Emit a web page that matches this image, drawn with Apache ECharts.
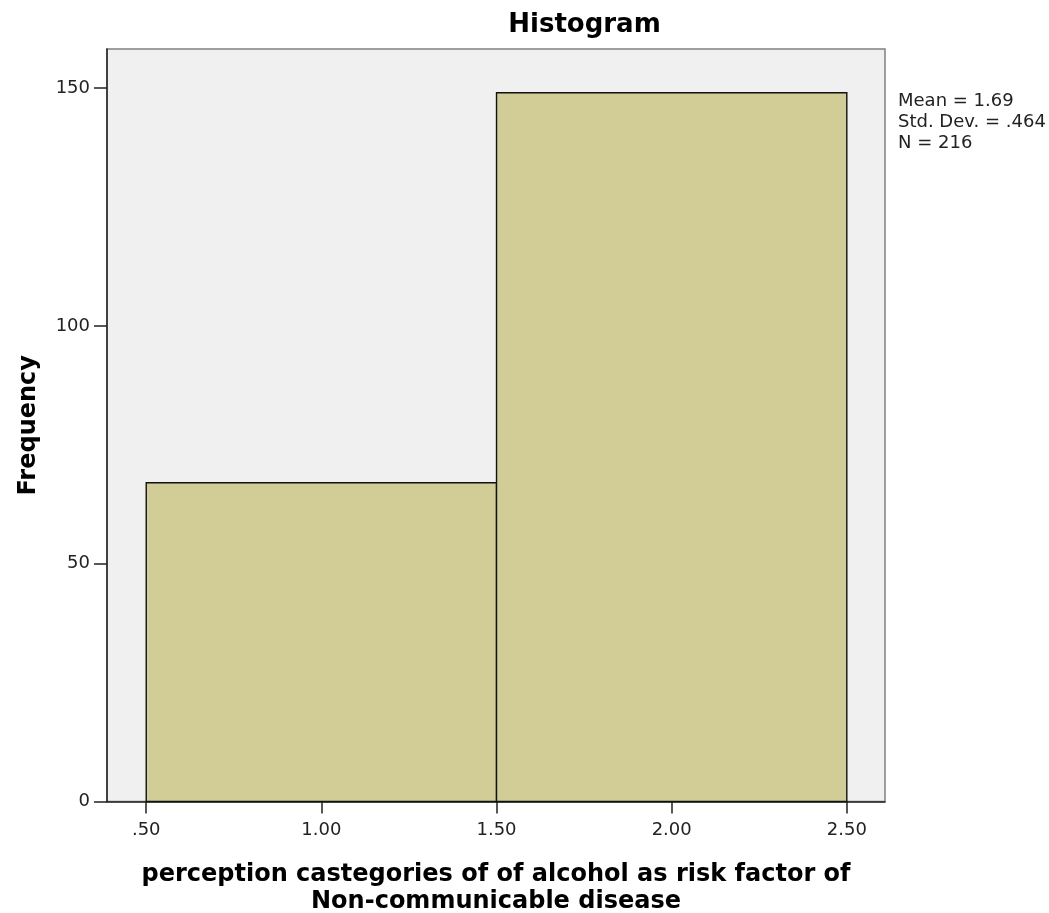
<!DOCTYPE html>
<html>
<head>
<meta charset="utf-8">
<script src="https://cdn.jsdelivr.net/npm/echarts@6/dist/echarts.min.js"></script>
<style>
html,body{margin:0;padding:0;background:#fff;}
#chart{width:1049px;height:913px;}
</style>
</head>
<body>
<div id="chart"></div>
<script>
// ---- data ----
const binStarts = [0.5, 1.5];
const binEnds = [1.5, 2.5];
const frequencies = [67, 149];
const xTickValues = [0.5, 1.0, 1.5, 2.0, 2.5];
const yTickValues = [0, 50, 100, 150];
const statLines = ['Mean = 1.69', 'Std. Dev. = .464', 'N = 216'];
const chartTitle = 'Histogram';
const xTitle = 'perception castegories of of alcohol as risk factor of\nNon-communicable disease';
const yTitle = 'Frequency';

const histData = binStarts.map((s, i) => [s, binEnds[i], frequencies[i]]);

function fmtX(v) {
  let s = Number(v).toFixed(2);
  if (s.startsWith('0.')) s = s.slice(1);
  return s;
}

const chart = echarts.init(document.getElementById('chart'), null, {renderer: 'canvas'});
const font = 'DejaVu Sans';

chart.setOption({
  backgroundColor: '#ffffff',
  animation: false,
  grid: {
    left: 107, right: 164, top: 49, bottom: 111.5,
    outerBoundsMode: 'none',
    containLabel: false,
    show: true, backgroundColor: '#f0f0f0', borderColor: '#808080', borderWidth: 1.5
  },
  xAxis: {
    type: 'value',
    min: 0.388, max: 2.609,
    name: xTitle,
    nameLocation: 'middle',
    nameGap: 60,
    nameTextStyle: {fontFamily: font, fontWeight: 'bold', fontSize: 24, color: '#000', lineHeight: 27},
    axisLine: {show: true, onZero: false, lineStyle: {color: '#222', width: 1.5}},
    axisTick: {show: true, length: 12, lineStyle: {color: '#222', width: 1.5}, customValues: xTickValues},
    axisLabel: {fontFamily: font, fontSize: 18, color: '#222', margin: 20, customValues: xTickValues, formatter: fmtX},
    splitLine: {show: false}
  },
  yAxis: {
    type: 'value',
    min: 0, max: 158.2,
    name: yTitle,
    nameLocation: 'middle',
    nameGap: 66,
    nameTextStyle: {fontFamily: font, fontWeight: 'bold', fontSize: 24, color: '#000'},
    axisLine: {show: true, lineStyle: {color: '#222', width: 1.5}},
    axisTick: {show: true, length: 13, lineStyle: {color: '#222', width: 1.5}, customValues: yTickValues},
    axisLabel: {fontFamily: font, fontSize: 18, color: '#222', margin: 17, customValues: yTickValues},
    splitLine: {show: false}
  },
  series: [{
    type: 'custom',
    data: histData,
    encode: {x: [0, 1], y: 2},
    renderItem: function (params, api) {
      const p0 = api.coord([api.value(0), 0]);
      const p1 = api.coord([api.value(1), api.value(2)]);
      return {
        type: 'rect',
        shape: {x: p0[0], y: p1[1], width: p1[0] - p0[0], height: p0[1] - p1[1]},
        style: {fill: '#d2cd96', stroke: '#111', lineWidth: 1.4}
      };
    }
  }],
  graphic: [{
    type: 'text',
    x: 584.5,
    y: 25,
    style: {text: chartTitle, fontFamily: font, fontWeight: 'bold', fontSize: 26, fill: '#000',
            align: 'center', verticalAlign: 'middle'}
  }].concat(statLines.map((t, i) => ({
    type: 'text',
    x: 898,
    y: 101 + i * 21,
    style: {text: t, fontFamily: font, fontSize: 18, fill: '#222', verticalAlign: 'middle'}
  })))
});
</script>
</body>
</html>
